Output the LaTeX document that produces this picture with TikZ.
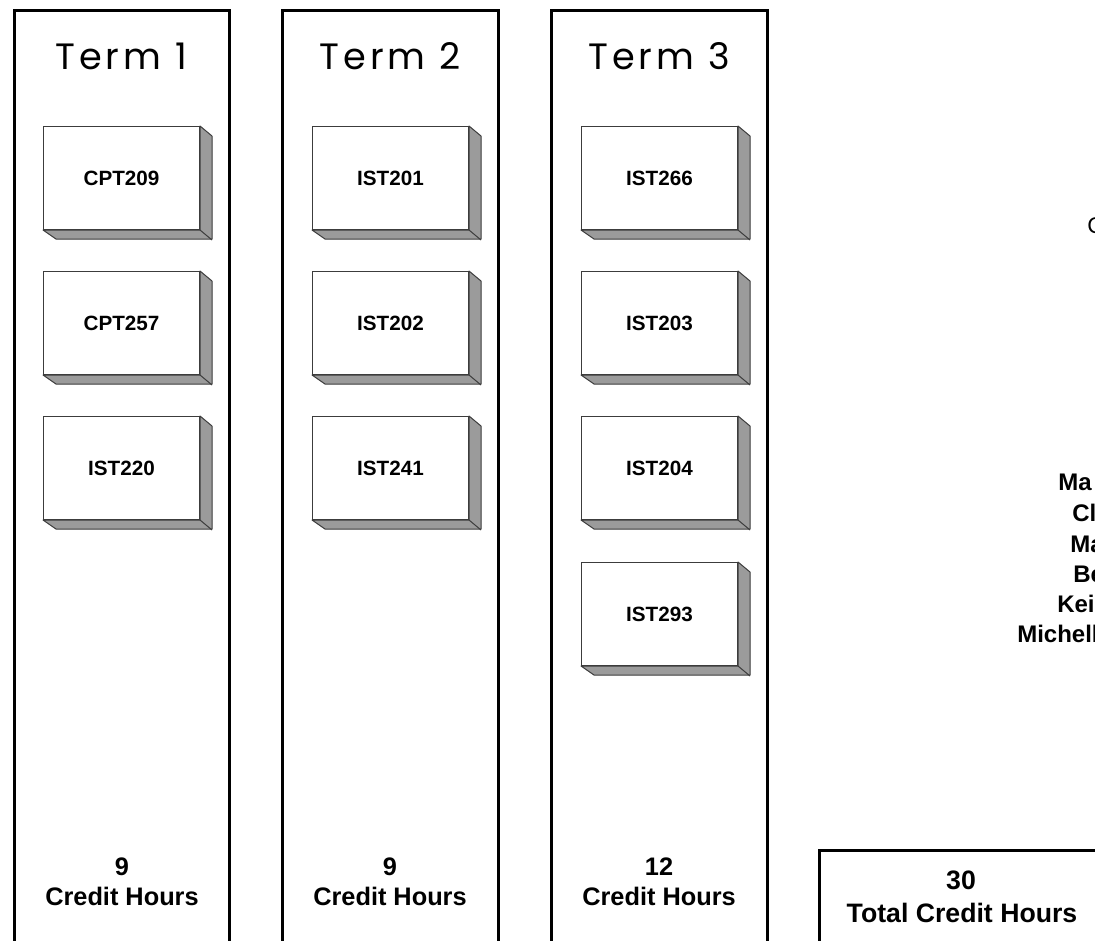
\documentclass[tikz,border=0pt]{standalone}
\usepackage{fontspec}
\setmainfont{Liberation Sans}
\newfontfamily\termfont[LetterSpace=11]{Poppins}
\definecolor{shade}{RGB}{155,155,155}
\definecolor{edge}{RGB}{60,60,60}
\newcommand{\coursebox}[4]{%
  \node[coursebx] (#1) at (#2,#3) {#4};
  \filldraw[fill=shade,draw=edge,line width=0.75pt,line join=round]
    (#1.north east) -- ++(12,10) -- ++(0,103) -- ++(-156,0) -- (#1.south west) -- (#1.south east) -- cycle;
  \draw[edge,line width=0.75pt] (#1.south east) -- ++(12,10);
}
\begin{document}
\begin{tikzpicture}[x=0.75pt,y=-0.75pt,
  colbx/.style={draw=black,line width=2.25pt},
  coursebx/.style={rectangle,draw=edge,fill=white,line width=0.75pt,anchor=north west,
    minimum width=117pt,minimum height=77.25pt,inner sep=0pt,
    font=\bfseries\fontsize{15.5}{18}\selectfont},
  termlbl/.style={anchor=base,inner sep=0pt,font=\termfont\fontsize{27.5}{30}\selectfont},
  creditlbl/.style={anchor=base,inner sep=0pt,font=\bfseries\fontsize{19}{22}\selectfont},
  totallbl/.style={anchor=base,inner sep=0pt,font=\bfseries\fontsize{20}{24}\selectfont},
  personlbl/.style={anchor=base west,inner sep=0pt,font=\bfseries\fontsize{18}{22}\selectfont},
  plainlbl/.style={anchor=base west,inner sep=0pt,font=\fontsize{17}{20}\selectfont}]
\useasboundingbox (0,0) rectangle (1095,940);
\clip (0,0) rectangle (1095,940);
% columns
\draw[colbx] (14,10) rectangle (229,1000);
\draw[colbx] (282,10) rectangle (498,1000);
\draw[colbx] (551,10) rectangle (767,1000);
\draw[colbx] (819,850) rectangle (1200,1000);
% titles
\node[termlbl] (t1) at (121,69) {Term 1};
\node[termlbl] (t2) at (390,69) {Term 2};
\node[termlbl] (t3) at (659,69) {Term 3};
% courses
\coursebox{c1a}{43}{126}{CPT209}
\coursebox{c1b}{43}{271}{CPT257}
\coursebox{c1c}{43}{416}{IST220}
\coursebox{c2a}{312}{126}{IST201}
\coursebox{c2b}{312}{271}{IST202}
\coursebox{c2c}{312}{416}{IST241}
\coursebox{c3a}{581}{126}{IST266}
\coursebox{c3b}{581}{271}{IST203}
\coursebox{c3c}{581}{416}{IST204}
\coursebox{c3d}{581}{562}{IST293}
% credit hours
\node[creditlbl] (n1) at (122,875) {9};
\node[creditlbl] (h1) at (122,905) {Credit Hours};
\node[creditlbl] (n2) at (390,875) {9};
\node[creditlbl] (h2) at (390,905) {Credit Hours};
\node[creditlbl] (n3) at (659,875) {12};
\node[creditlbl] (h3) at (659,905) {Credit Hours};
\node[totallbl] (tn) at (961,889) {30};
\node[totallbl] (th) at (962,922) {Total Credit Hours};
% right side texts (cut off at the picture's edge, as in the reference)
\node[plainlbl] (c) at (1087,233) {C};
\node[personlbl] (m1) at (1058,490) {Ma};
\node[personlbl] (m2) at (1072,521) {Cl};
\node[personlbl] (m3) at (1070,552) {Ma};
\node[personlbl] (m4) at (1073,582) {Be};
\node[personlbl] (m5) at (1057,612) {Kei};
\node[personlbl] (m6) at (1017,642) {Michelle};
\end{tikzpicture}
\end{document}
